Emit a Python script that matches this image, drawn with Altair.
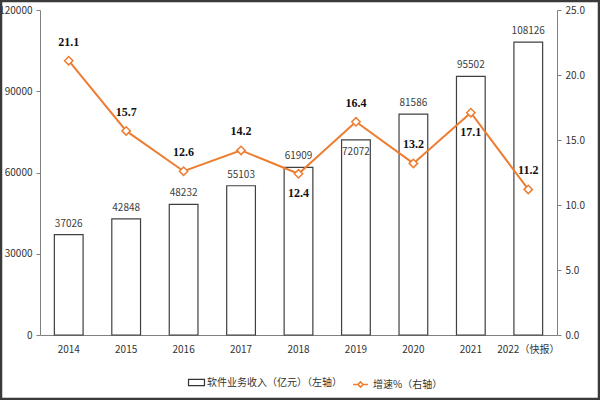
import altair as alt
import pandas as pd

years = ["2014", "2015", "2016", "2017", "2018", "2019", "2020", "2021", "2022（快报）"]
revenue = [37026, 42848, 48232, 55103, 61909, 72072, 81586, 95502, 108126]
growth = [21.1, 15.7, 12.6, 14.2, 12.4, 16.4, 13.2, 17.1, 11.2]
growth_label_side = ["above", "above", "above", "above", "below", "above", "above", "below", "above"]
revenue_label_side = ["above", "above", "above", "above", "above", "inside", "above", "above", "above"]

bar_name = "软件业务收入（亿元）（左轴）"
line_name = "增速%（右轴）"

df = pd.DataFrame({"year": years, "revenue": revenue, "growth": growth,
                   "side": growth_label_side, "rside": revenue_label_side})

FONT = "Noto Sans CJK SC"
ORANGE = "#ED7D31"

x = alt.X("year:N", sort=years, title=None,
          scale=alt.Scale(paddingInner=0.5, paddingOuter=0.25),
          axis=alt.Axis(labelAngle=0, ticks=False, domainColor="#808080",
                        labelColor="#333", labelFont=FONT, labelFontSize=10, labelPadding=9))

y_left = alt.Y("revenue:Q", title=None,
               scale=alt.Scale(domain=[0, 120000]),
               axis=alt.Axis(values=[0, 30000, 60000, 90000, 120000], format="d", grid=False,
                             domainColor="#808080", tickColor="#808080", tickSize=4,
                             labelColor="#333", labelFont=FONT, labelFontSize=10, labelPadding=4))

y_right = alt.Y("growth:Q", title=None,
                scale=alt.Scale(domain=[0, 25]),
                axis=alt.Axis(orient="right", values=[0, 5, 10, 15, 20, 25], format=".1f", grid=False,
                              domainColor="#808080", tickColor="#808080", tickSize=4,
                              labelColor="#333", labelFont=FONT, labelFontSize=10, labelPadding=4))

base = alt.Chart(df)
xs = alt.X("year:N", sort=years)
yl = alt.Y("revenue:Q", scale=alt.Scale(domain=[0, 120000]))
yr = alt.Y("growth:Q", scale=alt.Scale(domain=[0, 25]))

bars = base.mark_bar(stroke="#404040", strokeWidth=1.2).encode(
    x=x,
    y=y_left,
    fill=alt.Fill("kind:N", scale=alt.Scale(domain=[bar_name], range=["white"]),
                  legend=alt.Legend(title=None, orient="none", legendX=150, legendY=366,
                                    symbolType="M-1.4,-0.55H1.4V0.55H-1.4Z", symbolSize=130,
                                    symbolStrokeColor="#333", symbolStrokeWidth=1.2,
                                    labelFont=FONT, labelFontSize=10, labelColor="#333")),
).transform_calculate(kind=f"'{bar_name}'")

bar_text_style = dict(font=FONT, fontSize=10, color="#404040")
bar_text_above = base.mark_text(baseline="bottom", dy=-6, **bar_text_style).encode(
    x=xs, y=yl, text=alt.Text("revenue:Q", format="d")
).transform_filter(alt.datum.rside == "above")
bar_text_inside = base.mark_text(baseline="top", dy=7, **bar_text_style).encode(
    x=xs, y=yl, text=alt.Text("revenue:Q", format="d")
).transform_filter(alt.datum.rside == "inside")

left = alt.layer(bars, bar_text_above, bar_text_inside)

line = base.mark_line(strokeWidth=2).encode(
    x=xs,
    y=y_right,
    stroke=alt.Stroke("kind:N", scale=alt.Scale(domain=[line_name], range=[ORANGE]),
                      legend=alt.Legend(title=None, orient="none", legendX=312, legendY=366,
                                        symbolType="M-1,0H-0.35M0.35,0H1M0,-0.35L0.35,0L0,0.35L-0.35,0Z",
                                        symbolSize=220, symbolFillColor="white", symbolStrokeWidth=1.5,
                                        labelFont=FONT, labelFontSize=10, labelColor="#333")),
).transform_calculate(kind=f"'{line_name}'")

points = base.mark_point(shape="diamond", filled=True, fill="white", stroke=ORANGE,
                         strokeWidth=1.5, size=70, opacity=1).encode(x=xs, y=yr)

text_style = dict(font="Liberation Serif", fontSize=12, fontWeight="bold", color="#111")
g_above = base.mark_text(dy=-19, **text_style).encode(
    x=xs, y=yr, text=alt.Text("growth:Q", format=".1f")
).transform_filter(alt.datum.side == "above")
g_below = base.mark_text(dy=19, **text_style).encode(
    x=xs, y=yr, text=alt.Text("growth:Q", format=".1f")
).transform_filter(alt.datum.side == "below")

right = alt.layer(line, points, g_above, g_below)

frame = alt.Chart(pd.DataFrame({"a": [0]})).mark_rect(
    fill=None, stroke="#3a3a3a", strokeWidth=2.5, clip=False).encode(
    x=alt.value(-39), x2=alt.value(559), y=alt.value(-9), y2=alt.value(389))

chart = alt.layer(left, right, frame).resolve_scale(
    y="independent", fill="independent", stroke="independent"
).properties(
    width=517, height=325,
    autosize=alt.AutoSizeParams(type="none"),
    padding={"left": 40, "top": 10, "right": 43, "bottom": 65},
    background="white",
).configure_view(stroke=None)

chart.save("out.html", embed_options={"renderer": "svg", "actions": False})
